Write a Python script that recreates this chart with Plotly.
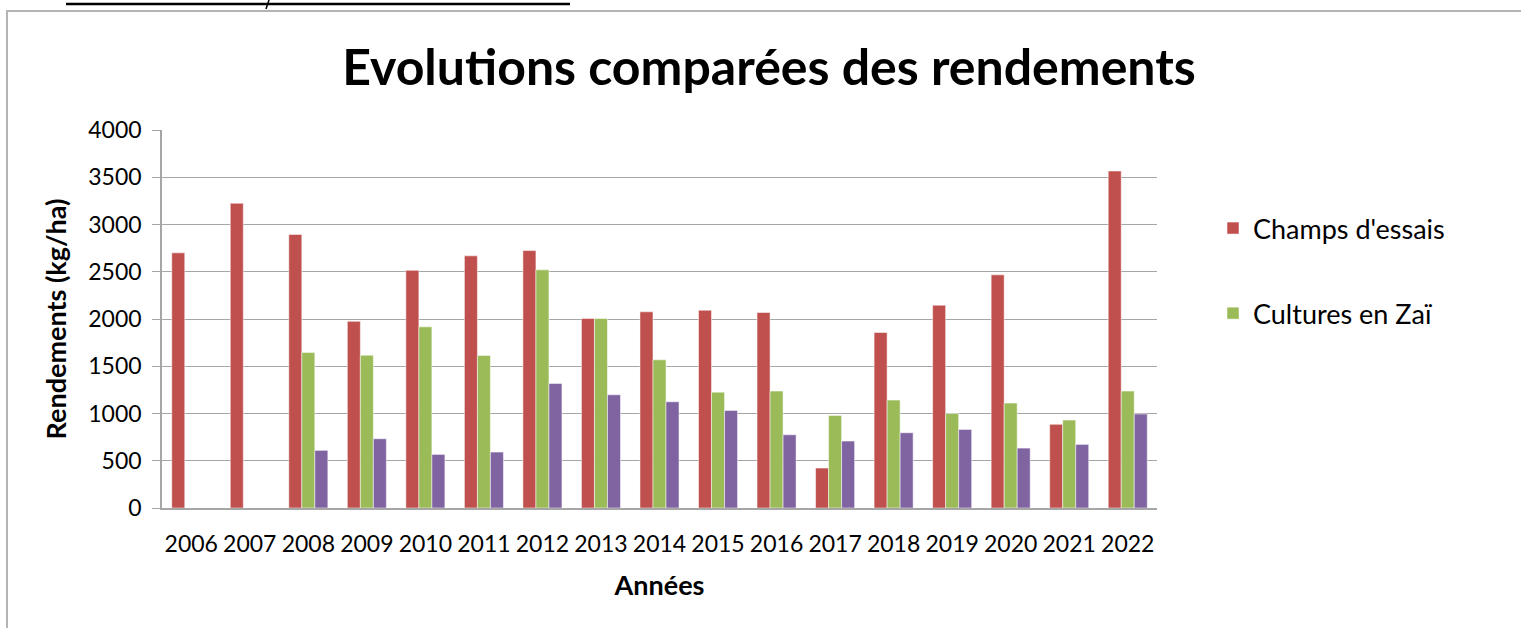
import plotly.graph_objects as go

# Yields per year (kg/ha)
years = ["2006", "2007", "2008", "2009", "2010", "2011", "2012", "2013", "2014",
         "2015", "2016", "2017", "2018", "2019", "2020", "2021", "2022"]
champs_essais = [2700, 3225, 2895, 1975, 2515, 2668, 2724, 2005, 2076,
                 2093, 2069, 423, 1857, 2146, 2467, 885, 3566]
cultures_zai = [None, None, 1646, 1617, 1917, 1614, 2520, 2005, 1568,
                1226, 1237, 980, 1142, 1001, 1110, 930, 1237]
temoins = [None, None, 610, 733, 567, 592, 1318, 1198, 1124,
           1033, 775, 708, 796, 832, 634, 673, 994]

W, H = 1521, 628
# plot area in pixels
L, R, T, B = 162, 1157, 130, 508


def px(x):
    return (x - L) / (R - L)


def py(y):
    return (B - y) / (B - T)


FONT = "Lato, 'Open Sans', sans-serif"
GRID = "#a6a6a6"
EDGE = dict(color="rgba(255,255,255,0.5)", width=1)

fig = go.Figure()
fig.add_trace(go.Bar(x=years, y=champs_essais, name="Champs d'essais",
                     marker=dict(color="#C0504D", line=EDGE), legendgroup="a"))
fig.add_trace(go.Bar(x=years, y=cultures_zai, name="Cultures en Zaï",
                     marker=dict(color="#9BBB59", line=EDGE), legendgroup="b"))
# third series has no entry in the original legend
fig.add_trace(go.Bar(x=years, y=temoins, name="Témoins", showlegend=False,
                     marker=dict(color="#8064A2", line=EDGE), legendgroup="c"))

fig.update_layout(
    width=W,
    height=H,
    margin=dict(l=L, r=W - R, t=T, b=H - B, pad=0),
    paper_bgcolor="white",
    plot_bgcolor="white",
    font=dict(family=FONT, color="black", size=22),
    barmode="group",
    bargap=0.333,
    bargroupgap=0,
    title=dict(
        text="<b>Evolutions comparées des rendements</b>",
        font=dict(family=FONT, size=50, color="black"),
        xref="container", x=769 / W, xanchor="center",
        yref="container", y=1 - 67 / H, yanchor="middle",
    ),
    legend=dict(
        x=px(1213), xanchor="left",
        y=py(204), yanchor="top",
        font=dict(family=FONT, size=27, color="black"),
        tracegroupgap=47,
        bgcolor="rgba(0,0,0,0)",
    ),
    xaxis=dict(
        type="category",
        showgrid=False,
        showline=True, linecolor=GRID, linewidth=1.5,
        ticks="",
        ticklabelstandoff=15,
        tickfont=dict(family=FONT, size=23),
        title=dict(text="<b>Années</b>", font=dict(family=FONT, size=27), standoff=20),
    ),
    yaxis=dict(
        range=[0, 4000],
        dtick=500,
        showgrid=True, gridcolor=GRID, gridwidth=1,
        showline=True, linecolor=GRID, linewidth=1.5,
        ticks="outside", ticklen=8, tickcolor=GRID, tickwidth=1,
        ticklabelstandoff=6,
        tickfont=dict(family=FONT, size=23),
        zeroline=False,
        title=dict(text="<b>Rendements (kg/ha)</b>", font=dict(family=FONT, size=27), standoff=14),
    ),
    shapes=[
        # outer chart frame
        dict(type="rect", xref="paper", yref="paper",
             x0=px(7), x1=px(1532), y0=py(645), y1=py(11),
             line=dict(color="#b4b4b4", width=2), layer="below"),
        # rule of the page above the chart
        dict(type="line", xref="paper", yref="paper",
             x0=px(66), x1=px(570), y0=py(4), y1=py(4),
             line=dict(color="black", width=2.5)),
        dict(type="line", xref="paper", yref="paper",
             x0=px(266), x1=px(269), y0=py(9), y1=py(0),
             line=dict(color="black", width=1.5)),
    ],
)

# drop the browser's default body margin so pixel positions line up
fig.write_html(
    "out.html",
    config={"displayModeBar": False},
    post_script="document.body.style.margin = '0';",
)
